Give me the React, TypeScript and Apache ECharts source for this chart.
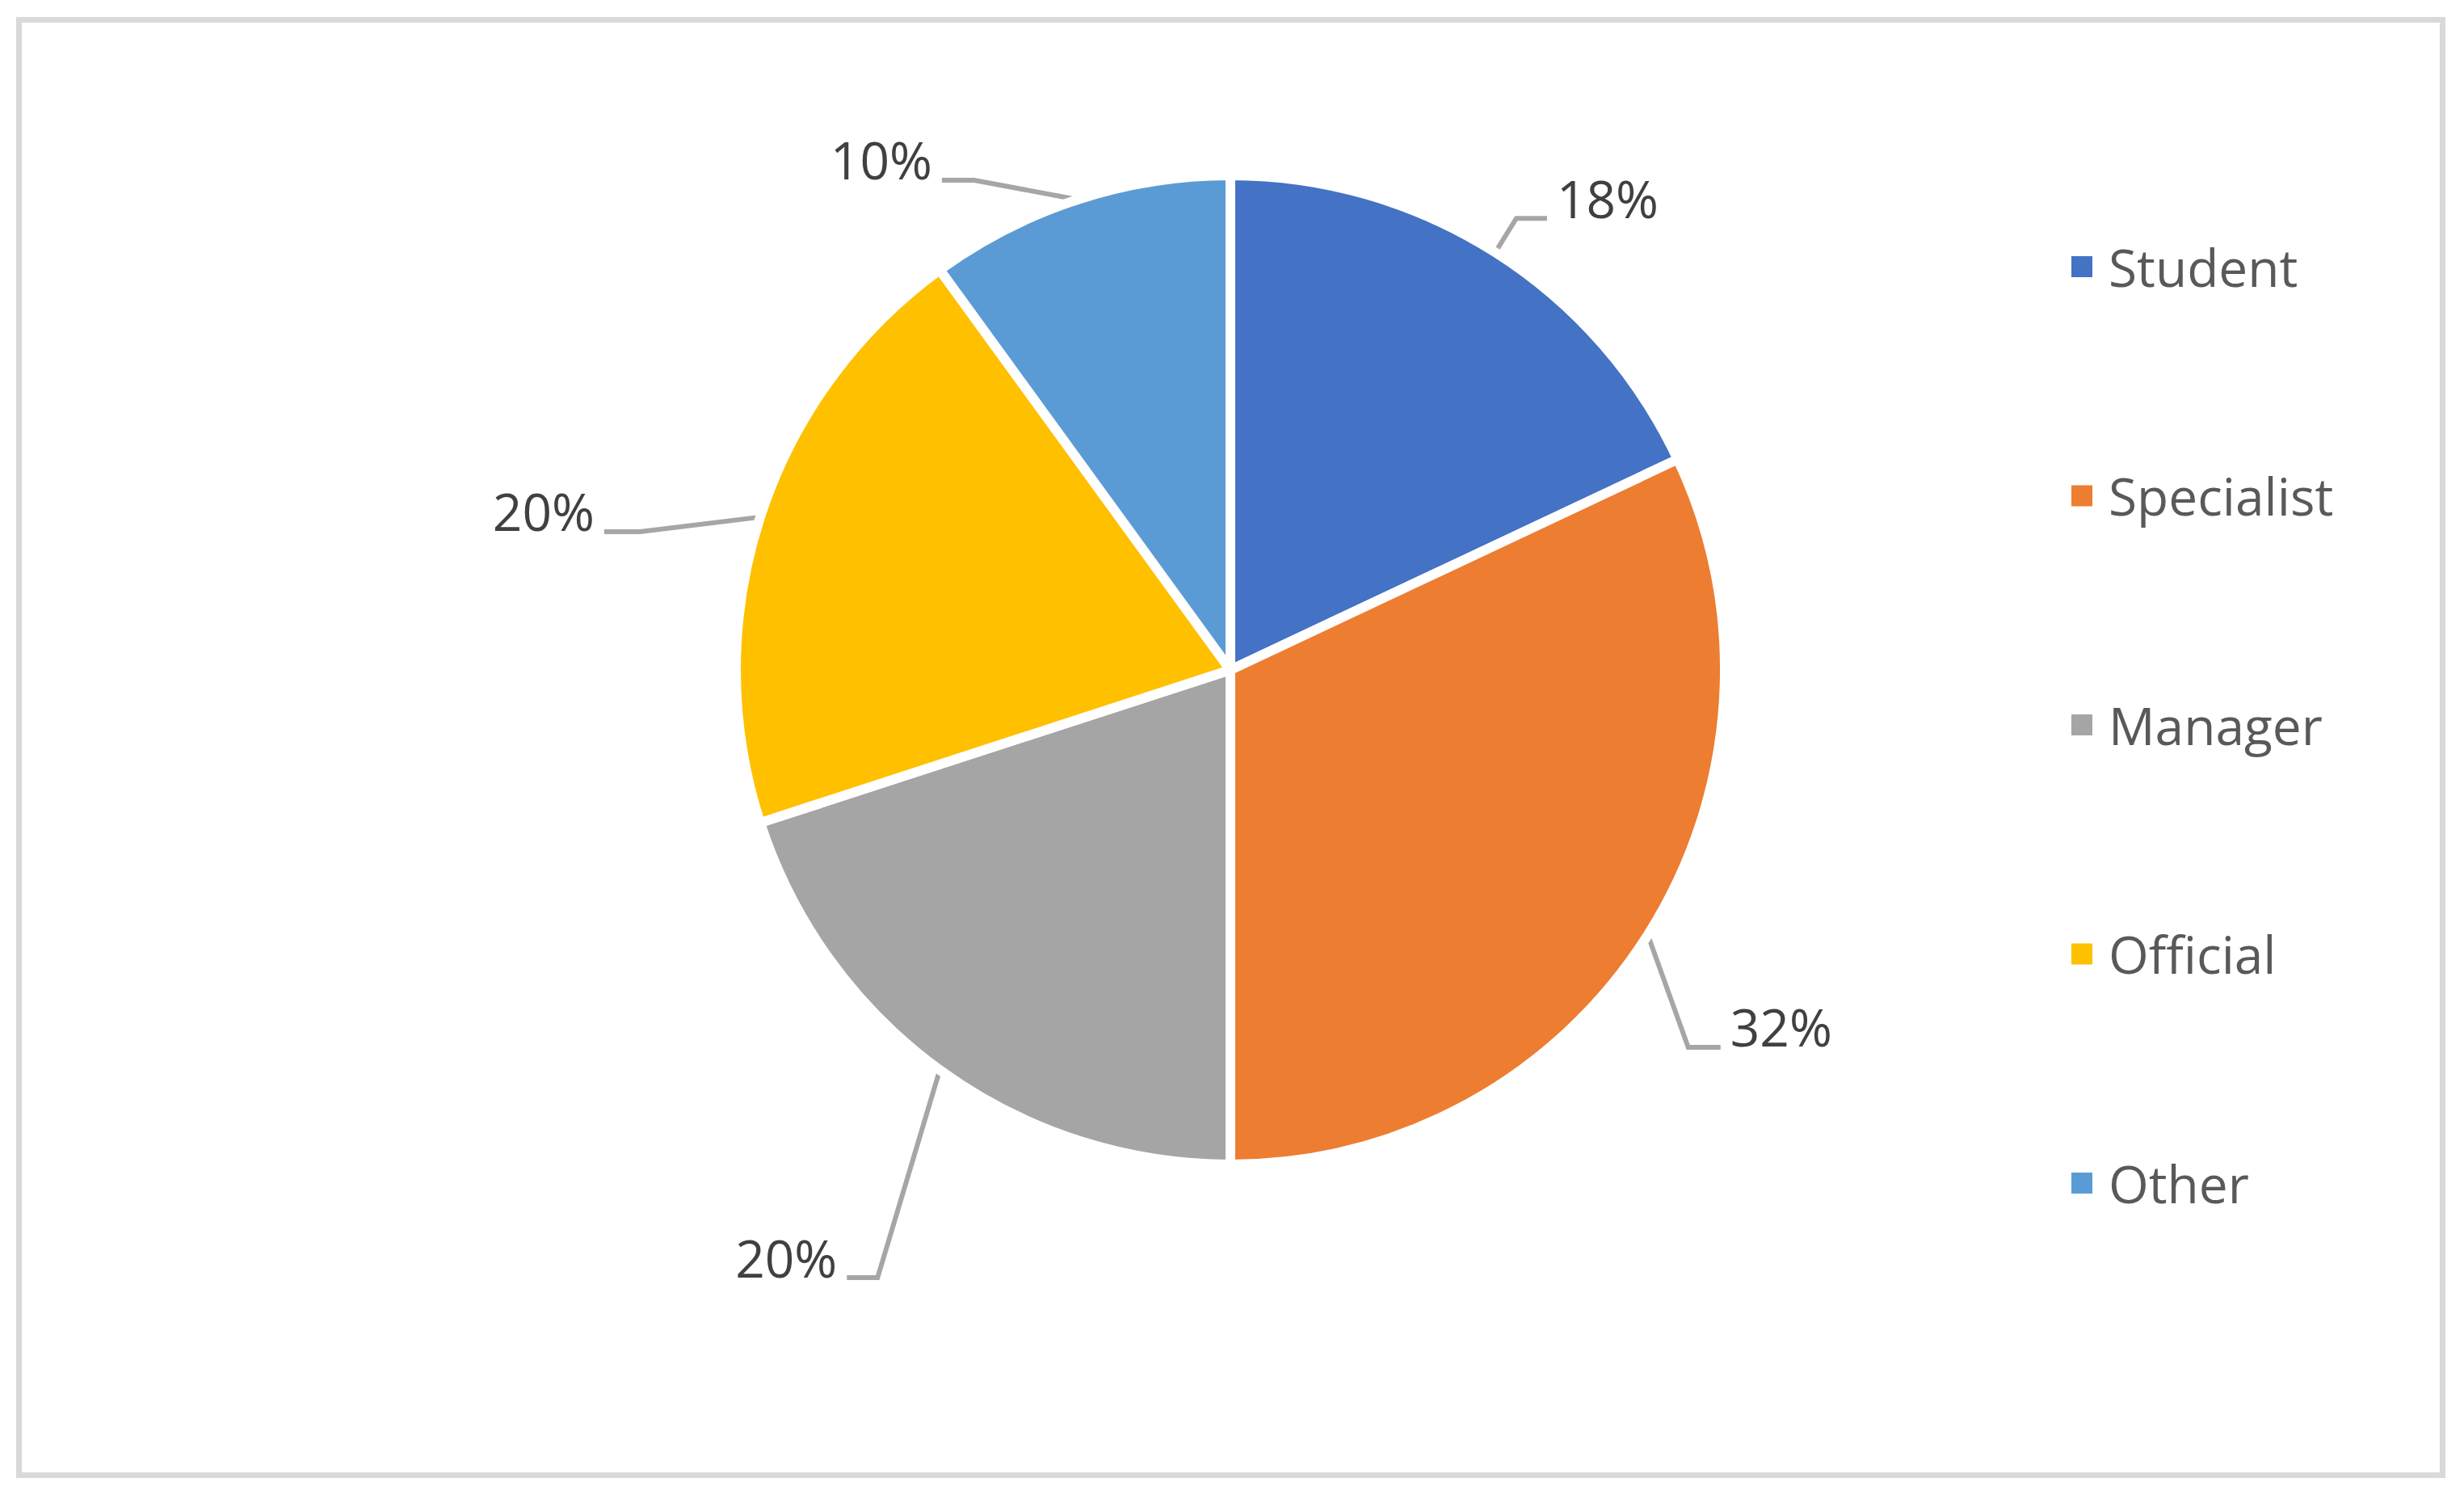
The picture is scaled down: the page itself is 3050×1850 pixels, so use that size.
import React, { useEffect, useRef } from "react";
import * as echarts from "echarts";

// ---- data ----
const categories = ["Student", "Specialist", "Manager", "Official", "Other"];
const shares = [18, 32, 20, 20, 10];

// ---- styling ----
const sliceColors = ["#4472C4", "#ED7D31", "#A5A5A5", "#FFC000", "#5B9BD5"];
// leader-line bend relative to the slice's edge point, and the horizontal run after the bend
const leaderBend = [
  [26, -42],
  [50, 139],
  [-77, 257],
  [-149, 18],
  [-128, -24],
];
const leaderRun = [38, 40, -38, -44, -40];

const CX = 1523;
const CY = 829;
const R = 612;
const FONT = "'Open Sans', 'Noto Sans', sans-serif";

export default function App() {
  const ref = useRef<HTMLDivElement>(null);

  useEffect(() => {
    if (!ref.current) return;
    const chart = echarts.init(ref.current, undefined, { renderer: "svg" });
    const total = shares.reduce((a, b) => a + b, 0);

    const option: any = {
      animation: false,
      backgroundColor: "#ffffff",
      graphic: [
        {
          type: "rect",
          shape: { x: 23.5, y: 24.5, width: 3000, height: 1801 },
          style: { fill: "none", stroke: "#D9D9D9", lineWidth: 7 },
          silent: true,
        },
      ],
      legend: {
        orient: "vertical",
        left: 2557,
        top: 285,
        icon: "rect",
        itemWidth: 28,
        itemHeight: 28,
        itemGap: 203.5,
        selectedMode: false,
        data: categories,
        textStyle: {
          fontSize: 64,
          color: "#595959",
          fontFamily: FONT,
          lineHeight: 80,
          padding: [0, 0, 0, 14],
        },
      },
      series: [
        {
          type: "pie",
          center: [CX, CY],
          radius: R,
          startAngle: 90,
          clockwise: true,
          silent: true,
          emphasis: { disabled: true },
          itemStyle: { borderColor: "#ffffff", borderWidth: 12 },
          label: {
            show: true,
            position: "outside",
            fontSize: 64,
            fontFamily: FONT,
            color: "#404040",
            formatter: (p: any) => Math.round(p.percent) + "%",
          },
          labelLine: {
            show: true,
            length: 40,
            length2: 40,
            smooth: false,
            lineStyle: { color: "#A6A6A6", width: 6 },
          },
          labelLayout: (p: any) => {
            const i = p.dataIndex;
            let before = 0;
            for (let k = 0; k < i; k++) before += shares[k];
            const mid = ((before + shares[i] / 2) / total) * 2 * Math.PI;
            const x0 = CX + R * Math.sin(mid);
            const y0 = CY - R * Math.cos(mid);
            const x1 = x0 + leaderBend[i][0];
            const y1 = y0 + leaderBend[i][1];
            const x2 = x1 + leaderRun[i];
            const y2 = y1;
            const right = leaderRun[i] > 0;
            return {
              x: x2 + (right ? 12 : -12),
              y: y2 - 25,
              align: right ? "left" : "right",
              verticalAlign: "middle",
              labelLinePoints: [
                [x0, y0],
                [x1, y1],
                [x2, y2],
              ],
            };
          },
          data: categories.map((name, i) => ({
            name,
            value: shares[i],
            itemStyle: { color: sliceColors[i] },
          })),
        },
      ],
    };

    chart.setOption(option);
    return () => chart.dispose();
  }, []);

  return (
    <div
      ref={ref}
      style={{ position: "absolute", left: 0, top: 0, width: 3050, height: 1850, background: "#fff" }}
    />
  );
}
